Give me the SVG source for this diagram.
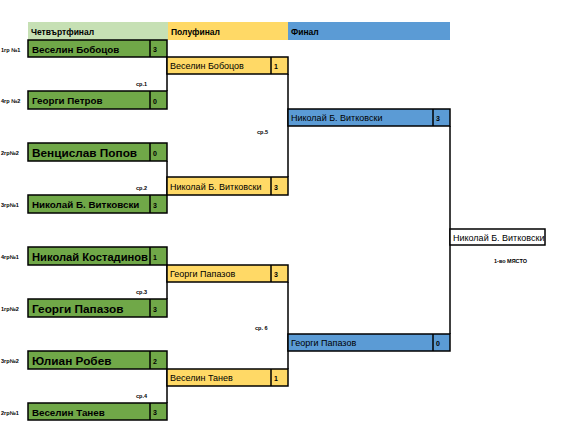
<svg xmlns="http://www.w3.org/2000/svg" width="570" height="428" viewBox="0 0 570 428">
<style>
text{font-family:"Liberation Sans",Arial,sans-serif;fill:#000}
.hd{font-size:8.5px;font-weight:bold}
.lbl{font-size:5.5px;font-weight:bold}
.q{font-weight:bold;font-size:9.8px}
.qb{font-weight:bold;font-size:11.8px}
.sc{font-weight:bold;font-size:7px}
.s{font-size:9px}
.g{fill:#70a848;stroke:#000;stroke-width:1.5}
.y{fill:#ffd966;stroke:#000;stroke-width:1.5}
.b{fill:#5b9bd5;stroke:#000;stroke-width:1.5}
.w{fill:#fff;stroke:#000;stroke-width:1.5}
.ln{fill:none;stroke:#000;stroke-width:1.5}
</style>
<rect width="570" height="428" fill="#fff"/>
<g id="headers">
<rect x="28" y="22" width="140" height="18" fill="#c6e0b4"/>
<rect x="168" y="22" width="120" height="18" fill="#ffd966"/>
<rect x="288" y="22" width="162" height="18" fill="#5b9bd5"/>
<text class="hd" x="31" y="35">Четвъртфинал</text>
<text class="hd" x="171" y="35">Полуфинал</text>
<text class="hd" x="291" y="35">Финал</text>
</g>
<g id="connectors">
<path class="ln" d="M167 57V91M167 161V195M167 265V299M167 369V403"/>
<path class="ln" d="M288 74V177M288 282V369"/>
<path class="ln" d="M450 126V334"/>
</g>
<g id="seeds">
<text class="lbl" x="1" y="52">1гр №1</text>
<text class="lbl" x="1" y="103">4гр №2</text>
<text class="lbl" x="1" y="155">2гр№2</text>
<text class="lbl" x="1" y="207">3гр№1</text>
<text class="lbl" x="1" y="259">4гр№1</text>
<text class="lbl" x="1" y="311">1гр№2</text>
<text class="lbl" x="1" y="363">3гр№2</text>
<text class="lbl" x="1" y="415">2гр№1</text>
<text class="lbl" x="136" y="86">ср.1</text>
<text class="lbl" x="136" y="190">ср.2</text>
<text class="lbl" x="136" y="294">ср.3</text>
<text class="lbl" x="136" y="398">ср.4</text>
<text class="lbl" x="257" y="134">ср.5</text>
<text class="lbl" x="255" y="330">ср. 6</text>
</g>
<g id="q1"><rect class="g" x="28" y="40" width="139" height="17"/><line class="ln" x1="150" y1="40" x2="150" y2="57"/><text class="q" x="32" y="52.5">Веселин Бобоцов</text><text class="sc" x="153" y="52">3</text></g>
<g id="q2"><rect class="g" x="28" y="91" width="139" height="18"/><line class="ln" x1="150" y1="91" x2="150" y2="109"/><text class="q" x="32" y="104">Георги Петров</text><text class="sc" x="153" y="103.5">0</text></g>
<g id="q3"><rect class="g" x="28" y="143" width="139" height="18"/><line class="ln" x1="150" y1="143" x2="150" y2="161"/><text class="qb" x="32" y="156.5">Венцислав Попов</text><text class="sc" x="153" y="155.5">0</text></g>
<g id="q4"><rect class="g" x="28" y="195" width="139" height="18"/><line class="ln" x1="150" y1="195" x2="150" y2="213"/><text class="q" x="32" y="208">Николай Б. Витковски</text><text class="sc" x="153" y="208">3</text></g>
<g id="q5"><rect class="g" x="28" y="247" width="139" height="18"/><line class="ln" x1="150" y1="247" x2="150" y2="265"/><text class="qb" x="32" y="260.5" textLength="116" lengthAdjust="spacingAndGlyphs">Николай Костадинов</text><text class="sc" x="153" y="260">1</text></g>
<g id="q6"><rect class="g" x="28" y="299" width="139" height="18"/><line class="ln" x1="150" y1="299" x2="150" y2="317"/><text class="qb" x="32" y="312.5">Георги Папазов</text><text class="sc" x="153" y="312">3</text></g>
<g id="q7"><rect class="g" x="28" y="351" width="139" height="18"/><line class="ln" x1="150" y1="351" x2="150" y2="369"/><text class="qb" x="32" y="364.5">Юлиан Робев</text><text class="sc" x="153" y="364">2</text></g>
<g id="q8"><rect class="g" x="28" y="403" width="139" height="17"/><line class="ln" x1="150" y1="403" x2="150" y2="420"/><text class="q" x="32" y="415.5">Веселин Танев</text><text class="sc" x="153" y="415">3</text></g>
<g id="s1"><rect class="y" x="167" y="57" width="121" height="17"/><line class="ln" x1="271" y1="57" x2="271" y2="74"/><text class="s" x="170" y="69">Веселин Бобоцов</text><text class="sc" x="274" y="69">1</text></g>
<g id="s2"><rect class="y" x="167" y="177" width="121" height="18"/><line class="ln" x1="271" y1="177" x2="271" y2="195"/><text class="s" x="170" y="189.5">Николай Б. Витковски</text><text class="sc" x="274" y="189.5">3</text></g>
<g id="s3"><rect class="y" x="167" y="265" width="121" height="17"/><line class="ln" x1="271" y1="265" x2="271" y2="282"/><text class="s" x="170" y="277">Георги Папазов</text><text class="sc" x="274" y="277">3</text></g>
<g id="s4"><rect class="y" x="167" y="369" width="121" height="17"/><line class="ln" x1="271" y1="369" x2="271" y2="386"/><text class="s" x="170" y="381">Веселин Танев</text><text class="sc" x="274" y="381">1</text></g>
<g id="f1"><rect class="b" x="288" y="109" width="162" height="17"/><line class="ln" x1="433" y1="109" x2="433" y2="126"/><text class="s" x="291" y="121">Николай Б. Витковски</text><text class="sc" x="436" y="121">3</text></g>
<g id="f2"><rect class="b" x="288" y="334" width="162" height="17"/><line class="ln" x1="433" y1="334" x2="433" y2="351"/><text class="s" x="291" y="346">Георги Папазов</text><text class="sc" x="436" y="346">0</text></g>
<g id="winner"><rect class="w" x="450" y="229" width="95" height="16"/><text class="s" x="453" y="240.5">Николай Б. Витковски</text><text class="lbl" x="494" y="263">1-во МЯСТО</text></g>
</svg>
